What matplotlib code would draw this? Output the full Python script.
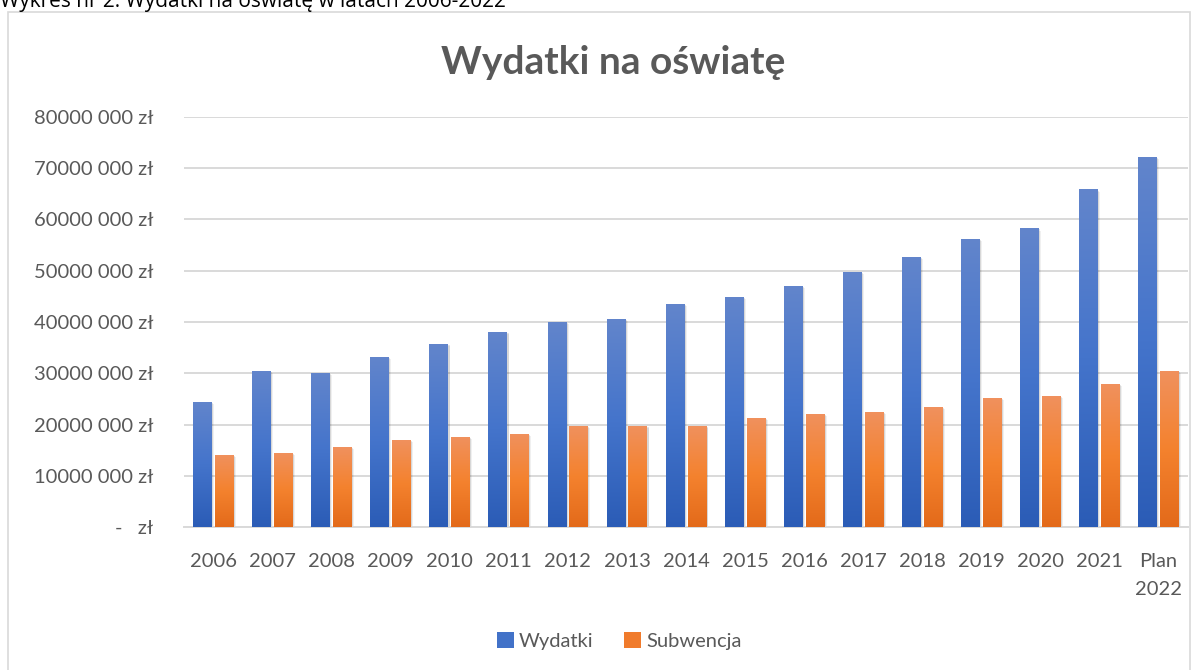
import numpy as np
import matplotlib.pyplot as plt
from matplotlib.colors import LinearSegmentedColormap
from matplotlib.patches import Rectangle, Patch
from matplotlib.ticker import FuncFormatter

# dane
lata = ['2006', '2007', '2008', '2009', '2010', '2011', '2012', '2013', '2014',
        '2015', '2016', '2017', '2018', '2019', '2020', '2021', 'Plan\n2022']
wydatki = [24.4, 30.5, 30.1, 33.2, 35.7, 38.1, 40.0, 40.6, 43.5,
           44.9, 47.0, 49.8, 52.7, 56.2, 58.3, 65.9, 72.2]
subwencja = [14.1, 14.5, 15.6, 17.0, 17.6, 18.2, 19.8, 19.8, 19.8,
             21.3, 22.1, 22.5, 23.4, 25.2, 25.6, 28.0, 30.5]
wydatki = [v * 1e6 for v in wydatki]
subwencja = [v * 1e6 for v in subwencja]

plt.rcParams['font.family'] = ['Lato', 'DejaVu Sans']
szary = '#595959'

fig = plt.figure(figsize=(12.02, 6.7), dpi=100)
ax = fig.add_axes([0.1531, 0.2134, 0.8353, 0.612])

# ramka wykresu i podpis u góry
fig.patches.append(Rectangle((8 / 1202, -0.05), 1182 / 1202, 1 - 12 / 670 + 0.05,
                             transform=fig.transFigure, fill=False,
                             edgecolor='#D9D9D9', linewidth=1.2))
fig.text(0.0, 1 - 7 / 670, 'Wykres nr 2. Wydatki na oświatę w latach 2006-2022',
         fontsize=15, color='black', va='baseline', ha='left',
         family=['Open Sans', 'DejaVu Sans'])

x = np.arange(len(lata))
w = 0.32
off = 0.185

cm_blue = LinearSegmentedColormap.from_list('b', ['#2B5CB6', '#4474CB', '#6285CC'])
cm_orange = LinearSegmentedColormap.from_list('o', ['#E36A1A', '#F4822E', '#F0915E'])
grad = np.linspace(0, 1, 256).reshape(-1, 1)

def gradient_bars(xs, vals, cmap):
    # cień
    for dx, dy, a in [(0.02, -0.25e6, 0.10), (0.035, -0.45e6, 0.06)]:
        ax.bar(xs + dx, np.array(vals) + dy, w, color='black', alpha=a,
               zorder=2, linewidth=0)
    bars = ax.bar(xs, vals, w, color='none', linewidth=0, zorder=3)
    for b in bars:
        x0, y0 = b.get_x(), b.get_y()
        im = ax.imshow(grad, cmap=cmap, origin='lower', aspect='auto',
                       extent=[x0, x0 + b.get_width(), y0, y0 + b.get_height()],
                       zorder=3)
        im.set_clip_path(b)

gradient_bars(x - off, wydatki, cm_blue)
gradient_bars(x + off, subwencja, cm_orange)

ax.set_xlim(-0.5, len(lata) - 0.5)
ax.set_ylim(0, 80e6)
ax.set_yticks(np.arange(0, 80e6 + 1, 10e6))

def fmt(v, pos):
    if v == 0:
        return '-   zł'
    m = int(round(v / 1e6))
    return f'{m}000 000 zł'

ax.yaxis.set_major_formatter(FuncFormatter(fmt))
ax.set_xticks(x)
ax.set_xticklabels(lata, fontsize=14.5, color=szary, linespacing=1.75, va='top')
ax.tick_params(axis='y', labelsize=14.5, labelcolor=szary, length=0, pad=22)
ax.tick_params(axis='x', length=0, pad=19)
ax.grid(axis='y', color='#D9D9D9', linewidth=1.4, zorder=0)
ax.set_axisbelow(True)
for s in ['top', 'right', 'left']:
    ax.spines[s].set_visible(False)
ax.spines['bottom'].set_color('#D9D9D9')
ax.spines['bottom'].set_linewidth(1.4)

fig.text(0.51, 1 - 62 / 670, 'Wydatki na oświatę', fontsize=28, fontweight='bold',
         color=szary, ha='center', va='center')

uchwyty = [Patch(facecolor='#4272C8', label='Wydatki'),
           Patch(facecolor='#F07B2C', label='Subwencja')]
fig.legend(handles=uchwyty, loc='center', bbox_to_anchor=(0.515, 1 - 641 / 670),
           ncol=2, frameon=False, fontsize=14.5, labelcolor=szary,
           handlelength=0.85, handleheight=0.85, handletextpad=0.25, columnspacing=1.5)

fig.savefig('out.png', dpi=100)
